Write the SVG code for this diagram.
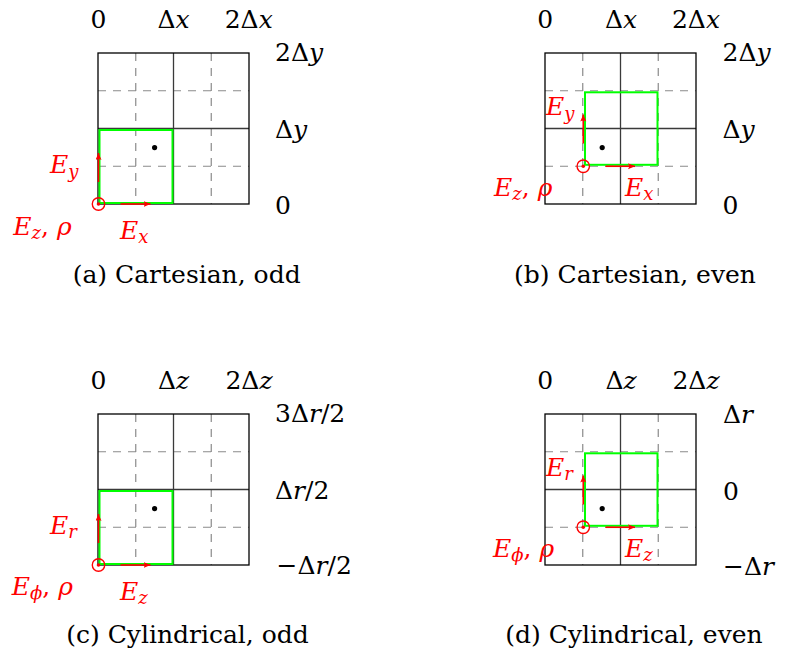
<svg xmlns="http://www.w3.org/2000/svg" width="788" height="659" viewBox="0 0 788 659">
<defs>
<marker id="ah" markerUnits="userSpaceOnUse" markerWidth="8" markerHeight="8" refX="7" refY="3" orient="auto">
<path d="M0,0 L7,3 L0,6 L1.5,3 z" fill="#ff0000"/>
</marker>
<g id="grid">
<path d="M37.75,0 V151 M113.25,0 V151 M0,37.75 H151 M0,113.25 H151" stroke="#8a8a8a" stroke-width="1.2" stroke-dasharray="8 7" fill="none"/>
<path d="M75.5,0 V151 M0,75.5 H151" stroke="#3a3a3a" stroke-width="1.3" fill="none"/>
<rect x="0" y="0" width="151" height="151" stroke="#000000" stroke-width="1.3" fill="none"/>
</g>
</defs>

<g id="panel-a">
<use href="#grid" transform="translate(98,53)"/>
<rect x="99.5" y="130" width="73" height="73" stroke="#00ff00" stroke-width="2" fill="none"/>
<circle cx="154.6" cy="147.6" r="2.6" fill="#000000"/>
<circle cx="98.5" cy="204" r="6.2" stroke="#ff0000" stroke-width="1.4" fill="none"/>
<circle cx="98.5" cy="204" r="1.8" fill="#ff0000"/>
<text font-family="DejaVu Serif" font-size="25" x="98.5" y="28" text-anchor="middle">0</text>
<text font-family="DejaVu Serif" font-size="25" x="173.5" y="28" text-anchor="middle">Δ<tspan font-style="italic">x</tspan></text>
<text font-family="DejaVu Serif" font-size="25" x="248.7" y="28" text-anchor="middle">2Δ<tspan font-style="italic">x</tspan></text>
<text font-family="DejaVu Serif" font-size="25" x="275" y="61">2Δ<tspan font-style="italic">y</tspan></text>
<text font-family="DejaVu Serif" font-size="25" x="275" y="138">Δ<tspan font-style="italic">y</tspan></text>
<text font-family="DejaVu Serif" font-size="25" x="275" y="214">0</text>
<text font-family="DejaVu Serif" font-size="25" fill="#ff0000" x="50" y="173"><tspan font-style="italic">E</tspan><tspan font-style="italic" font-size="18" dy="5">y</tspan></text>
<text font-family="DejaVu Serif" font-size="25" fill="#ff0000" x="13.3" y="235"><tspan font-style="italic">E</tspan><tspan font-style="italic" font-size="18" dy="4">z</tspan><tspan dy="-4">, </tspan><tspan font-style="italic">ρ</tspan></text>
<text font-family="DejaVu Serif" font-size="25" fill="#ff0000" x="120" y="239"><tspan font-style="italic">E</tspan><tspan font-style="italic" font-size="18" dy="4">x</tspan></text>
<text font-family="DejaVu Serif" font-size="25" x="186.7" y="283" text-anchor="middle">(a) Cartesian, odd</text>
</g>

<g id="panel-b">
<use href="#grid" transform="translate(545,53)"/>
<rect x="585" y="92.3" width="72.5" height="72.5" stroke="#00ff00" stroke-width="2" fill="none"/>
<circle cx="602.2" cy="147.6" r="2.6" fill="#000000"/>
<circle cx="583.25" cy="166.25" r="6.2" stroke="#ff0000" stroke-width="1.4" fill="none"/>
<circle cx="583.25" cy="166.25" r="1.8" fill="#ff0000"/>
<text font-family="DejaVu Serif" font-size="25" x="545.3" y="28" text-anchor="middle">0</text>
<text font-family="DejaVu Serif" font-size="25" x="621" y="28" text-anchor="middle">Δ<tspan font-style="italic">x</tspan></text>
<text font-family="DejaVu Serif" font-size="25" x="696" y="28" text-anchor="middle">2Δ<tspan font-style="italic">x</tspan></text>
<text font-family="DejaVu Serif" font-size="25" x="722.5" y="61">2Δ<tspan font-style="italic">y</tspan></text>
<text font-family="DejaVu Serif" font-size="25" x="722.5" y="138">Δ<tspan font-style="italic">y</tspan></text>
<text font-family="DejaVu Serif" font-size="25" x="722.5" y="214">0</text>
<text font-family="DejaVu Serif" font-size="25" fill="#ff0000" x="546" y="115"><tspan font-style="italic">E</tspan><tspan font-style="italic" font-size="18" dy="5">y</tspan></text>
<text font-family="DejaVu Serif" font-size="25" fill="#ff0000" x="494" y="196"><tspan font-style="italic">E</tspan><tspan font-style="italic" font-size="18" dy="4">z</tspan><tspan dy="-4">, </tspan><tspan font-style="italic">ρ</tspan></text>
<text font-family="DejaVu Serif" font-size="25" fill="#ff0000" x="625" y="196"><tspan font-style="italic">E</tspan><tspan font-style="italic" font-size="18" dy="4">x</tspan></text>
<text font-family="DejaVu Serif" font-size="25" x="635" y="283" text-anchor="middle">(b) Cartesian, even</text>
</g>

<g id="panel-c">
<use href="#grid" transform="translate(98,414)"/>
<rect x="99.5" y="491" width="73" height="73" stroke="#00ff00" stroke-width="2" fill="none"/>
<circle cx="154.6" cy="508.6" r="2.6" fill="#000000"/>
<circle cx="98.5" cy="565" r="6.2" stroke="#ff0000" stroke-width="1.4" fill="none"/>
<circle cx="98.5" cy="565" r="1.8" fill="#ff0000"/>
<text font-family="DejaVu Serif" font-size="25" x="98.5" y="389" text-anchor="middle">0</text>
<text font-family="DejaVu Serif" font-size="25" x="173.5" y="389" text-anchor="middle">Δ<tspan font-style="italic">z</tspan></text>
<text font-family="DejaVu Serif" font-size="25" x="249" y="389" text-anchor="middle">2Δ<tspan font-style="italic">z</tspan></text>
<text font-family="DejaVu Serif" font-size="25" x="275" y="422">3Δ<tspan font-style="italic">r</tspan>/2</text>
<text font-family="DejaVu Serif" font-size="25" x="275" y="499">Δ<tspan font-style="italic">r</tspan>/2</text>
<text font-family="DejaVu Serif" font-size="25" x="276.5" y="574">−Δ<tspan font-style="italic">r</tspan>/2</text>
<text font-family="DejaVu Serif" font-size="25" fill="#ff0000" x="50" y="534"><tspan font-style="italic">E</tspan><tspan font-style="italic" font-size="18" dy="4">r</tspan></text>
<text font-family="DejaVu Serif" font-size="25" fill="#ff0000" x="11.7" y="595"><tspan font-style="italic">E</tspan><tspan font-style="italic" font-size="18" dy="4">ϕ</tspan><tspan dy="-4">, </tspan><tspan font-style="italic">ρ</tspan></text>
<text font-family="DejaVu Serif" font-size="25" fill="#ff0000" x="120" y="600"><tspan font-style="italic">E</tspan><tspan font-style="italic" font-size="18" dy="4">z</tspan></text>
<text font-family="DejaVu Serif" font-size="25" x="187.5" y="643" text-anchor="middle">(c) Cylindrical, odd</text>
</g>

<g id="panel-d">
<use href="#grid" transform="translate(545,414)"/>
<rect x="585" y="453.3" width="72.5" height="72.5" stroke="#00ff00" stroke-width="2" fill="none"/>
<circle cx="602.2" cy="508.6" r="2.6" fill="#000000"/>
<circle cx="583.25" cy="527.25" r="6.2" stroke="#ff0000" stroke-width="1.4" fill="none"/>
<circle cx="583.25" cy="527.25" r="1.8" fill="#ff0000"/>
<text font-family="DejaVu Serif" font-size="25" x="545.3" y="389" text-anchor="middle">0</text>
<text font-family="DejaVu Serif" font-size="25" x="621" y="389" text-anchor="middle">Δ<tspan font-style="italic">z</tspan></text>
<text font-family="DejaVu Serif" font-size="25" x="696" y="389" text-anchor="middle">2Δ<tspan font-style="italic">z</tspan></text>
<text font-family="DejaVu Serif" font-size="25" x="723" y="423">Δ<tspan font-style="italic">r</tspan></text>
<text font-family="DejaVu Serif" font-size="25" x="723" y="500">0</text>
<text font-family="DejaVu Serif" font-size="25" x="723" y="575">−Δ<tspan font-style="italic">r</tspan></text>
<text font-family="DejaVu Serif" font-size="25" fill="#ff0000" x="546" y="476"><tspan font-style="italic">E</tspan><tspan font-style="italic" font-size="18" dy="4">r</tspan></text>
<text font-family="DejaVu Serif" font-size="25" fill="#ff0000" x="493" y="557"><tspan font-style="italic">E</tspan><tspan font-style="italic" font-size="18" dy="4">ϕ</tspan><tspan dy="-4">, </tspan><tspan font-style="italic">ρ</tspan></text>
<text font-family="DejaVu Serif" font-size="25" fill="#ff0000" x="625" y="557"><tspan font-style="italic">E</tspan><tspan font-style="italic" font-size="18" dy="4">z</tspan></text>
<text font-family="DejaVu Serif" font-size="25" x="634" y="643" text-anchor="middle">(d) Cylindrical, even</text>
</g>

<g id="connectors" stroke="#ff0000" stroke-width="1.6" fill="none" marker-end="url(#ah)">
<line x1="98.5" y1="182" x2="98.5" y2="153"/>
<line x1="120.5" y1="204" x2="150.5" y2="204"/>
<line x1="583.25" y1="143.5" x2="583.25" y2="114.5"/>
<line x1="605.5" y1="166.25" x2="635" y2="166.25"/>
<line x1="98.5" y1="543" x2="98.5" y2="514"/>
<line x1="120.5" y1="565" x2="150.5" y2="565"/>
<line x1="583.25" y1="504.5" x2="583.25" y2="475.5"/>
<line x1="605.5" y1="527.25" x2="635" y2="527.25"/>
</g>
</svg>
